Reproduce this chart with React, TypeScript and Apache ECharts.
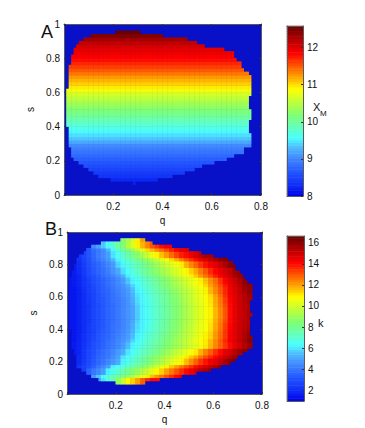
import React, { useEffect, useRef } from "react";
import * as echarts from "echarts";

const FONT = "Liberation Sans";
const Q_COLS = 80; // q cell = 0.01
const S_ROWS = 50; // s cell = 0.02
const FIRST_ROW = 3; // first listed row is s = 0.07

// Panel A, one entry per row, from s = 0.07 to s = 0.95
const xmRow = [8.2,8.25,8.35,8.42,8.5,8.58,8.65,8.72,8.8,8.87,8.95,9.03,9.2,9.35,9.45,9.55,9.65,9.75,9.85,9.95,10.05,10.15,10.25,10.35,10.45,10.55,10.65,10.8,10.95,11.05,11.15,11.25,11.38,11.5,11.6,11.7,11.8,11.87,11.93,11.98,12.05,12.15,12.3,12.45,12.58];
const aLeft = [.28,.19,.145,.12,.10,.08,.06,.045,.035,.03,.03,.02,.02,.02,.02,.02,.02,.01,.01,.01,.01,.01,.01,.01,.01,.01,.01,.01,.02,.02,.02,.02,.02,.02,.025,.03,.03,.035,.04,.045,.05,.065,.08,.11,.21];
const aRight = [.29,.38,.44,.49,.53,.565,.61,.66,.695,.725,.725,.755,.755,.755,.755,.75,.75,.75,.75,.755,.755,.755,.75,.75,.75,.75,.755,.755,.755,.755,.755,.755,.745,.73,.72,.715,.70,.695,.69,.65,.575,.54,.50,.40,.31];

// Panel B, boundary per row, from s = 0.07 to s = 0.95
const bLeft = [.20,.135,.105,.085,.06,.045,.042,.04,.036,.032,.03,.025,.02,.02,.02,.018,.016,.015,.015,.015,.015,.015,.015,.015,.015,.015,.014,.013,.013,.013,.013,.014,.015,.018,.022,.026,.03,.036,.044,.054,.07,.085,.105,.14,.22];
const bRight = [.32,.38,.47,.53,.59,.63,.665,.685,.70,.715,.735,.755,.755,.755,.755,.752,.75,.75,.748,.75,.754,.756,.752,.748,.748,.754,.756,.756,.756,.756,.755,.742,.73,.72,.707,.695,.685,.677,.66,.60,.55,.50,.43,.35,.315];

// Panel B, k x 10 read at q = 0.01, 0.03, ...; rows cover s in steps of 1/32 from row 2 up.
// A short row keeps its last value to the right.
const kRows = [
[50,50,50,50,50,50,50,60,68,76,88,98,108,114,120,128,135,140],
[40,40,40,40,40,48,56,64,70,75,79,84,89,94,100,105,110,116,121,126,131,136,141,145,148],
[25,25,25,25,35,41,45,50,62,66,70,75,80,85,89,94,99,104,109,114,120,125,130,135,140,144,148,152,155,158,160],
[15,17,22,26,30,35,40,45,50,62,65,69,73,77,81,86,90,95,100,105,110,115,120,125,130,135,140,144,148,152,156,160,162],
[15,16,19,24,29,33,37,41,45,48,52,62,66,70,74,78,82,86,90,94,98,102,106,109,116,122,128,134,139,143,146,150,155,160,162],
[15,16,19,23,28,32,36,39,42,46,50,60,64,68,72,76,80,84,87,91,95,98,102,106,110,115,120,126,131,136,141,145,149,153,157,160,162],
[15,16,18,23,28,31,35,38,41,44,48,52,60,64,68,72,75,79,82,86,90,93,97,100,104,107,111,118,124,129,135,140,145,149,153,157,160,162],
[15,16,18,22,26,30,33,36,39,42,45,49,55,62,65,68,72,75,78,81,85,88,91,94,97,100,103,107,111,117,123,128,134,140,145,149,153,158,163],
[15,15,18,21,25,29,32,35,38,41,44,47,51,58,63,66,70,73,77,80,84,87,91,94,97,101,104,108,111,117,123,129,136,143,147,151,156,161,161],
[15,15,17,21,25,28,32,35,37,40,43,46,49,55,62,65,69,72,75,79,82,86,89,93,96,99,103,106,110,114,121,127,134,142,146,150,154,160,161],
[15,15,17,20,24,27,31,34,36,39,42,45,48,53,60,63,67,70,73,77,80,84,87,91,95,98,102,105,108,113,120,126,134,142,146,150,153,157,158],
[15,15,17,20,24,27,30,33,36,39,41,44,47,52,59,62,66,69,73,76,79,83,86,90,94,97,101,104,107,112,119,125,133,141,146,150,152,155,156],
[15,15,17,20,23,27,30,33,36,38,41,44,47,51,58,62,65,68,72,75,79,82,86,89,93,96,100,104,107,111,118,124,131,140,145,149,152,154,155],
[15,15,17,20,23,27,30,33,36,38,41,44,47,50,57,62,65,68,72,75,78,82,85,89,93,96,100,103,107,110,117,123,130,140,145,149,152,155,156],
[15,15,17,20,23,27,30,33,36,38,41,44,47,50,57,62,65,68,72,75,78,82,85,89,93,96,100,103,107,110,117,123,130,140,145,149,152,155,156],
[15,15,17,20,23,27,30,33,36,38,41,44,47,51,58,62,66,69,72,75,79,82,86,89,93,97,100,104,107,111,118,124,131,140,145,149,152,155,156],
[15,15,17,20,24,27,31,33,36,39,41,44,47,52,59,63,66,69,73,76,79,83,86,90,94,97,101,104,108,112,119,125,133,141,146,150,153,156,157],
[15,15,17,20,24,27,31,34,36,39,42,45,48,53,60,63,67,70,73,77,80,84,87,91,95,98,102,105,108,113,120,127,135,142,146,150,153,157,158],
[15,15,17,21,25,28,32,35,37,40,43,46,49,55,62,65,69,72,76,79,82,86,89,93,96,99,103,106,110,117,123,129,136,143,147,151,156,159,160],
[15,16,18,22,25,29,32,35,38,41,44,47,51,58,63,67,71,74,78,81,85,88,92,95,98,102,105,109,113,120,125,131,138,144,148,152,158,160,160],
[15,16,18,22,26,30,33,36,39,42,45,49,56,62,65,69,73,76,79,83,86,90,93,97,100,103,107,110,116,122,127,134,141,146,150,155,160,162,162],
[15,16,18,23,28,31,34,38,41,44,48,53,61,65,69,73,77,80,84,88,91,95,99,102,106,110,115,121,126,131,137,142,146,150,155,158,160,162],
[15,16,19,24,29,33,36,39,43,47,51,59,64,68,72,76,80,84,87,91,94,98,101,105,109,114,119,125,130,136,141,145,148,152,157,160,162],
[15,16,20,25,30,34,37,41,45,49,58,63,67,71,75,79,83,87,91,95,99,102,106,110,117,123,128,134,139,143,146,150,155,160,162],
[15,17,21,26,31,36,40,44,48,54,62,67,71,76,80,84,89,93,98,103,107,113,118,124,130,135,140,144,148,152,156,160,162],
[15,18,22,27,32,37,42,46,50,60,65,70,76,81,87,93,99,105,110,116,121,127,132,137,140,144,148,152,156],
[30,30,30,30,32,38,42,46,54,63,70,77,83,90,97,104,112,117,123,127,132,137,142,145,148,152],
[45,45,45,45,45,45,50,57,64,70,78,84,94,102,110,117,123,130,135,140,143],
[80,80,80,80,80,80,80,80,80,80,80,85,92,100,110,120,125,130],
];
const K_FIRST_ROW = 2;

const qTicks = [0.2, 0.4, 0.6, 0.8];
const sTicks = [0, 0.2, 0.4, 0.6, 0.8, 1];
const xmTicks = [8, 9, 10, 11, 12];
const kTicks = [2, 4, 6, 8, 10, 12, 14, 16];
const XM_RANGE = [8, 12.58];
const K_RANGE = [1, 16.63];
const LEVELS = 64;

// colour map: [fraction, r, g, b]
const stops = [
  [0, 0, 0, 230], [0.06, 14, 44, 245], [0.14, 35, 85, 255], [0.22, 65, 135, 255], [0.29, 80, 190, 255], [0.34, 75, 255, 255],
  [0.48, 128, 255, 112], [0.63, 255, 255, 0], [0.7, 255, 165, 0], [0.84, 255, 0, 0], [1, 106, 0, 0],
];
const palette = Array.from({ length: LEVELS }, (_, i) => {
  const t = i / (LEVELS - 1);
  let j = 0;
  while (j < stops.length - 2 && t > stops[j + 1][0]) j++;
  const a = stops[j], b = stops[j + 1];
  const f = (t - a[0]) / (b[0] - a[0]);
  const c = [1, 2, 3].map((n) => Math.round(a[n] + (b[n] - a[n]) * f));
  return `rgb(${c[0]},${c[1]},${c[2]})`;
});

const colIndexes = Array.from({ length: Q_COLS }, (_, i) => String(i));
const rowIndexes = Array.from({ length: S_ROWS }, (_, i) => String(i));
const qOf = (c: number) => (c + 0.5) * 0.01;

function cellsA() {
  const out: number[][] = [];
  xmRow.forEach((v, i) => {
    for (let c = 0; c < Q_COLS; c++) {
      const q = qOf(c);
      if (q >= aLeft[i] && q <= aRight[i]) out.push([c, i + FIRST_ROW, v]);
    }
  });
  return out;
}
function cellsB() {
  const out: number[][] = [];
  bLeft.forEach((l, i) => {
    const row = i + FIRST_ROW;
    const s = (row + 0.5) * 0.02;
    const kr = kRows[Math.min(kRows.length - 1, Math.max(0, Math.floor(s * 32) - K_FIRST_ROW))];
    for (let c = 0; c < Q_COLS; c++) {
      const q = qOf(c);
      if (q < l || q > bRight[i]) continue;
      const kc = Math.floor(q / 0.02);
      const v = kr[Math.min(kc, kr.length - 1)];
      out.push([c, row, v / 10]);
    }
  });
  return out;
}
const barCells = (r: number[]) =>
  Array.from({ length: LEVELS }, (_, i) => [0, i, r[0] + ((i + 0.5) / LEVELS) * (r[1] - r[0])]);

const FRAME = "#5a5a5a";
const labelStyle = { fontFamily: FONT, fontSize: 10, color: "#111" };
const hiddenCat = (gridIndex: number, data: string[]) => ({
  type: "category" as const, gridIndex, data, show: false,
});
const frameX = (gridIndex: number, position: string, labels: boolean) => ({
  type: "value" as const, gridIndex, position, min: 0, max: 0.8, interval: 0.2, z: 5,
  axisLine: { show: true, onZero: false, lineStyle: { color: FRAME, width: 1 } },
  axisTick: { show: true, inside: true, length: 2, lineStyle: { color: "#333" } },
  splitLine: { show: false },
  axisLabel: labels
    ? { show: true, margin: 6, ...labelStyle, customValues: qTicks, formatter: (v: number) => String(v) }
    : { show: false },
  ...(labels ? { name: "q", nameLocation: "middle" as const, nameGap: 20, nameTextStyle: { fontFamily: FONT, fontSize: 10, color: "#111" } } : {}),
});
const frameY = (gridIndex: number, position: string, labels: boolean) => ({
  type: "value" as const, gridIndex, position, min: 0, max: 1, interval: 0.2, z: 5,
  axisLine: { show: true, onZero: false, lineStyle: { color: FRAME, width: 1 } },
  axisTick: { show: true, inside: true, length: 2, lineStyle: { color: "#333" } },
  splitLine: { show: false },
  axisLabel: labels
    ? { show: true, margin: 4, ...labelStyle, customValues: sTicks, formatter: (v: number) => String(v) }
    : { show: false },
  ...(labels ? { name: "s", nameLocation: "middle" as const, nameGap: 23, nameTextStyle: { fontFamily: FONT, fontSize: 10, color: "#111" } } : {}),
});
const barFrameX = (gridIndex: number, position: string) => ({
  type: "value" as const, gridIndex, position, min: 0, max: 1, z: 5,
  axisLine: { show: true, onZero: false, lineStyle: { color: FRAME, width: 1 } },
  axisTick: { show: false }, splitLine: { show: false }, axisLabel: { show: false },
});
const barFrameY = (gridIndex: number, position: string, r: number[], ticks: number[], labels: boolean) => ({
  type: "value" as const, gridIndex, position, min: r[0], max: r[1], z: 5,
  axisLine: { show: true, onZero: false, lineStyle: { color: FRAME, width: 1 } },
  axisTick: { show: labels, inside: true, length: 2, customValues: ticks, lineStyle: { color: "#333" } },
  splitLine: { show: false },
  axisLabel: labels
    ? { show: true, margin: 4, ...labelStyle, fontSize: 10, customValues: ticks, formatter: (v: number) => String(v) }
    : { show: false },
});

const heat = (xAxisIndex: number, yAxisIndex: number, data: number[][]) => ({
  type: "heatmap" as const, xAxisIndex, yAxisIndex, data, progressive: 0,
  itemStyle: { borderWidth: 0 }, emphasis: { disabled: true },
});
const plainText = (x: number, y: number, text: string, fontSize: number) => ({
  type: "text" as const, x, y,
  style: { text, fontSize, fontFamily: FONT, fill: "#111", textVerticalAlign: "top" as const },
});

export default function App() {
  const ref = useRef<HTMLDivElement>(null);
  useEffect(() => {
    document.body.style.margin = "0";
    const chart = echarts.init(ref.current!, undefined, { renderer: "svg" });
    chart.setOption({
      animation: false,
      backgroundColor: "#fff",
      grid: [
        { left: 64, top: 24, width: 197, height: 171, show: true, backgroundColor: "#0810C8", borderWidth: 0 },
        { left: 67, top: 232, width: 195, height: 162, show: true, backgroundColor: "#0810C8", borderWidth: 0 },
        { left: 287, top: 26, width: 16, height: 170 },
        { left: 287, top: 236, width: 17, height: 165 },
      ],
      xAxis: [
        hiddenCat(0, colIndexes), frameX(0, "bottom", true), frameX(0, "top", false),
        hiddenCat(1, colIndexes), frameX(1, "bottom", true), frameX(1, "top", false),
        hiddenCat(2, ["bar"]), barFrameX(2, "bottom"), barFrameX(2, "top"),
        hiddenCat(3, ["bar"]), barFrameX(3, "bottom"), barFrameX(3, "top"),
      ],
      yAxis: [
        hiddenCat(0, rowIndexes), frameY(0, "left", true), frameY(0, "right", false),
        hiddenCat(1, rowIndexes), frameY(1, "left", true), frameY(1, "right", false),
        hiddenCat(2, palette), barFrameY(2, "left", XM_RANGE, xmTicks, false), barFrameY(2, "right", XM_RANGE, xmTicks, true),
        hiddenCat(3, palette), barFrameY(3, "left", K_RANGE, kTicks, false), barFrameY(3, "right", K_RANGE, kTicks, true),
      ],
      visualMap: [
        { show: false, type: "continuous", seriesIndex: [0, 2], dimension: 2, min: XM_RANGE[0], max: XM_RANGE[1], inRange: { color: palette } },
        { show: false, type: "continuous", seriesIndex: [1, 3], dimension: 2, min: K_RANGE[0], max: K_RANGE[1], inRange: { color: palette } },
      ],
      series: [
        heat(0, 0, cellsA()),
        heat(3, 3, cellsB()),
        heat(6, 6, barCells(XM_RANGE)),
        heat(9, 9, barCells(K_RANGE)),
      ],
      graphic: [
        plainText(41, 23, "A", 18),
        plainText(45, 220, "B", 18),
        plainText(313, 101, "X", 11),
        plainText(320, 109, "M", 8),
        plainText(318, 317, "k", 11),
      ],
    });
    return () => chart.dispose();
  }, []);
  return <div ref={ref} style={{ width: 365, height: 428 }} />;
}
